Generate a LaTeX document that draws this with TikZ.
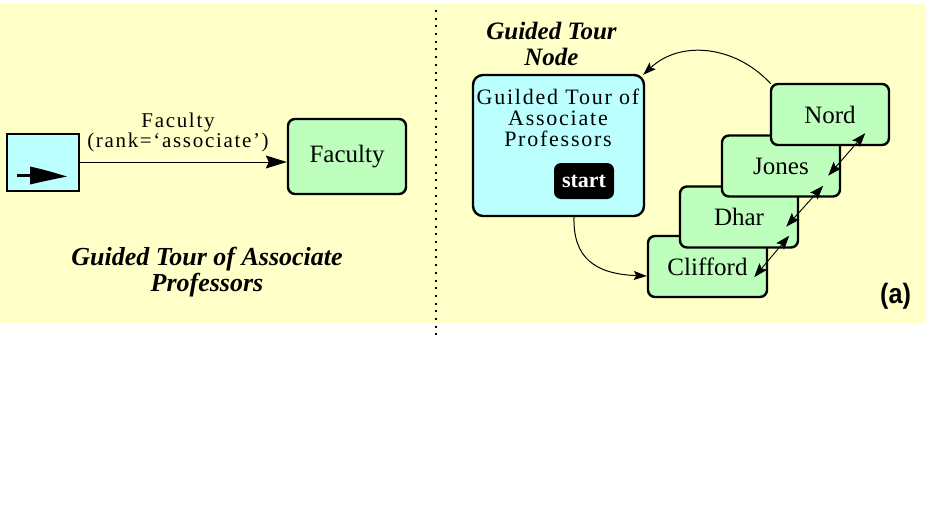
\documentclass[tikz,border=0pt]{standalone}
\usepackage{fontspec}
\setmainfont{Liberation Serif}
\newfontfamily\labelfont[LetterSpace=8]{Liberation Serif}
\newfontfamily\panelsans{Liberation Sans}
\usetikzlibrary{arrows.meta}

\definecolor{panelyellow}{RGB}{255,255,200}
\definecolor{tourblue}{RGB}{187,255,255}
\definecolor{pagegreen}{RGB}{190,255,190}

\tikzset{
  pagebox/.style={draw=black, line width=2.4pt, fill=pagegreen, rounded corners=7pt,
    minimum width=118pt, minimum height=61pt, inner sep=0pt,
    font=\fontsize{25pt}{28pt}\selectfont},
  tourbox/.style={draw=black, line width=2.4pt, fill=tourblue, rounded corners=10pt,
    minimum width=171pt, minimum height=141pt, inner sep=0pt},
  startbtn/.style={fill=black, rounded corners=7pt, minimum width=60pt, minimum height=36pt,
    inner sep=0pt, text=white, font=\fontsize{22pt}{24pt}\selectfont\bfseries},
  iconbox/.style={draw=black, line width=2.6pt, fill=tourblue,
    minimum width=72pt, minimum height=57pt, inner sep=0pt},
  title/.style={align=center, inner sep=0pt, font=\bfseries\itshape},
  conn/.style={line width=0.9pt, -{Stealth[length=21pt, width=13pt, inset=3pt]}},
  curvelink/.style={line width=1pt, -{Stealth[length=13pt, width=9pt, inset=2.5pt]}},
  pagelink/.style={line width=0.9pt, {Stealth[length=14pt, width=10pt, inset=2.5pt]}-{Stealth[length=14pt, width=10pt, inset=2.5pt]}},
  divider/.style={line width=2pt, dash pattern=on 2pt off 5.7pt},
}

\begin{document}
\begin{tikzpicture}[x=1pt, y=-1pt]
  \useasboundingbox (0,0) rectangle (926,511);
  \fill[panelyellow] (0,4) rectangle (926,323);

  % ---- left panel: link to the tour -------------------------------------
  \node[iconbox] (src) at (43,162.5) {};
  \draw[line width=3.2pt] (17,175.5) -- (34,175.5);
  \fill (30,166.5) .. controls (45,170) .. (67,176.5) .. controls (45,181) .. (30,184.5) -- cycle;

  \node[pagebox, minimum width=118pt, minimum height=75pt] (faculty) at (347,156.5) {Faculty};
  \draw[conn] (src.east |- 0,162) -- (faculty.west |- 0,162);
  \node[align=center, inner sep=0pt, font=\labelfont\fontsize{21pt}{20pt}\selectfont]
    (facultylabel) at (178,132) {Faculty\\(rank=‘associate’)};

  \node[title, font=\bfseries\itshape\fontsize{26pt}{26pt}\selectfont]
    (lefttitle) at (207,272) {Guided Tour of Associate\\Professors};

  % ---- right panel: the tour node and its pages ------------------------
  \node[title, font=\bfseries\itshape\fontsize{25pt}{26pt}\selectfont]
    (righttitle) at (551.5,44) {Guided Tour\\Node};

  \node[tourbox] (tour) at (558.5,145.5) {};
  \node[align=center, inner sep=0pt, font=\labelfont\fontsize{22pt}{21pt}\selectfont]
    (tourtext) at (558,118) {Guilded Tour of\\Associate\\Professors};
  \node[startbtn] (start) at (584,181) {start};

  \node[pagebox, minimum width=119pt] (clifford) at (707.5,266.5) {Clifford};
  \node[pagebox] (dhar) at (739,217) {Dhar};
  \node[pagebox] (jones) at (781,166) {Jones};
  \node[pagebox] (nord) at (830,114.5) {Nord};

  % next / previous links between the pages
  \draw[pagelink] ([xshift=-14pt,yshift=21pt]clifford.south east) -- ([xshift=-10pt,yshift=13pt]dhar.south east);
  \draw[pagelink] ([xshift=-13pt,yshift=22pt]dhar.south east) -- ([xshift=-18pt,yshift=12pt]jones.south east);
  \draw[pagelink] ([xshift=-13pt,yshift=22pt]jones.south east) -- ([xshift=-25pt,yshift=13pt]nord.south east);

  % entering and leaving the tour
  \draw[curvelink] ([xshift=1pt,yshift=-1pt]nord.north west) .. controls (735,45) and (680,40) .. ([xshift=-2pt,yshift=-1pt]tour.north east);
  \draw[curvelink] ([xshift=15.5pt]tour.south) .. controls (573,258) and (595,274) .. ([yshift=-9.5pt]clifford.west);

  \node[inner sep=0pt, font=\panelsans\bfseries\fontsize{28pt}{30pt}\selectfont] (tag) at (895.5,296) {\scalebox{0.9}[1]{(a)}};

  % ---- dotted divider between the panels -------------------------------
  \draw[divider] (436,10) -- (436,338);
\end{tikzpicture}
\end{document}
